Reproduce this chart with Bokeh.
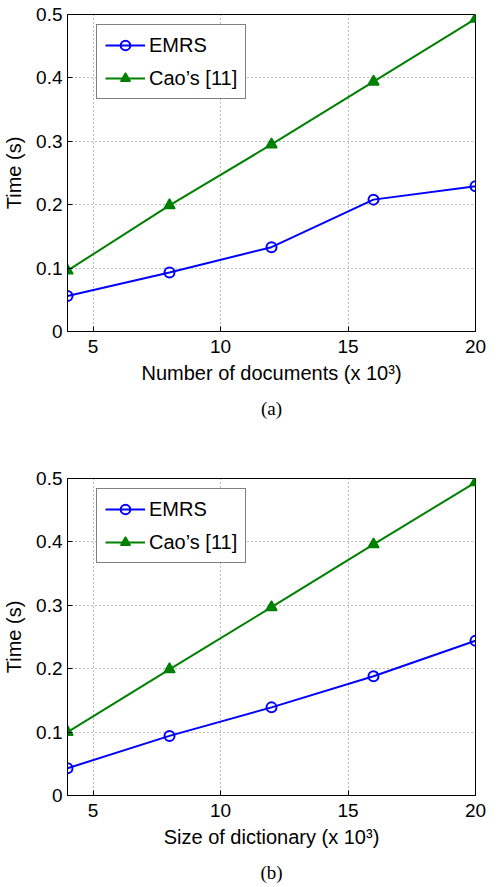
from bokeh.plotting import figure
from bokeh.models import Range1d, FixedTicker, CustomJSTickFormatter, Title, Legend
from bokeh.layouts import column
from bokeh.embed import file_html
from bokeh.resources import INLINE

x_vals = [4, 8, 12, 16, 20]
emrs_docs = [0.056, 0.093, 0.133, 0.208, 0.229]
cao_docs = [0.096, 0.199, 0.295, 0.394, 0.493]
emrs_dict = [0.043, 0.094, 0.139, 0.188, 0.244]
cao_dict = [0.100, 0.199, 0.297, 0.396, 0.494]
x_ticks = [5, 10, 15, 20]
y_ticks = [0, 0.1, 0.2, 0.3, 0.4, 0.5]
series_names = ["EMRS", "Cao\u2019s [11]"]

SANS = "Liberation Sans"
SERIF = "Liberation Serif"
FRAME_H = 317


def make_plot(emrs, cao, xlabel, caption, top_border, bottom_border):
    p = figure(frame_width=408, frame_height=FRAME_H, output_backend="svg",
               toolbar_location=None, x_range=Range1d(4, 20), y_range=Range1d(0, 0.5),
               min_border_left=61, min_border_right=11,
               min_border_top=top_border, min_border_bottom=bottom_border,
               background_fill_color="white", border_fill_color="white")
    p.outline_line_color = "black"
    p.outline_line_width = 1
    p.outline_line_alpha = 1

    p.xaxis.ticker = FixedTicker(ticks=x_ticks)
    p.yaxis.ticker = FixedTicker(ticks=y_ticks)
    p.yaxis.formatter = CustomJSTickFormatter(code="return Math.abs(tick) < 1e-9 ? '0' : tick.toFixed(1);")
    for ax in (p.xaxis, p.yaxis):
        ax.major_tick_in = 5
        ax.major_tick_out = 0
        ax.minor_tick_line_color = None
        ax.axis_line_color = "black"
        ax.major_tick_line_color = "black"
        ax.major_label_text_font = SANS
        ax.major_label_text_font_size = "19px"
        ax.major_label_text_color = "black"
        ax.axis_label_text_font = SANS
        ax.axis_label_text_font_size = "20px"
        ax.axis_label_text_font_style = "normal"
        ax.axis_label_text_color = "black"
    p.xaxis.axis_label = xlabel
    p.yaxis.axis_label = "Time (s)"
    p.xaxis.major_label_standoff = 8
    p.xaxis.axis_label_standoff = 6
    p.yaxis.major_label_standoff = 5
    p.yaxis.axis_label_standoff = 8

    p.grid.grid_line_color = "#777777"
    p.grid.grid_line_dash = "1 3"
    p.grid.grid_line_width = 1

    l1 = p.line(x_vals, emrs, line_color="#0000ff", line_width=2)
    m1 = p.scatter(x_vals, emrs, marker="circle", size=10, line_color="#0000ff",
                   line_width=2, fill_color=None)
    l2 = p.line(x_vals, cao, line_color="#008000", line_width=2)
    m2 = p.scatter(x_vals, cao, marker="triangle", size=11, line_color="#008000",
                   line_width=1.5, fill_color="#008000")

    legend = Legend(items=[(series_names[0], [l1, m1]), (series_names[1], [l2, m2])],
                    location=(29, FRAME_H - 13 - 72))
    legend.border_line_color = "black"
    legend.border_line_width = 1
    legend.background_fill_color = "white"
    legend.background_fill_alpha = 1
    legend.label_text_font = SANS
    legend.label_text_font_size = "20px"
    legend.label_text_color = "black"
    legend.glyph_width = 40
    legend.glyph_height = 24
    legend.label_height = 24
    legend.label_standoff = 4
    legend.spacing = 9
    legend.padding = 8
    legend.margin = 0
    p.add_layout(legend, "center")

    t = Title(text=caption, align="center", text_font=SERIF, text_font_size="19px",
              text_font_style="normal", text_color="black", standoff=18)
    p.add_layout(t, "below")
    return p


p1 = make_plot(emrs_docs, cao_docs, "Number of documents (x 10\u00b3)", "(a)", 14, 115)
p2 = make_plot(emrs_dict, cao_dict, "Size of dictionary (x 10\u00b3)", "(b)", 32, 90)
p = column(p1, p2, spacing=0)

open("out.html", "w").write(file_html(p, INLINE))
